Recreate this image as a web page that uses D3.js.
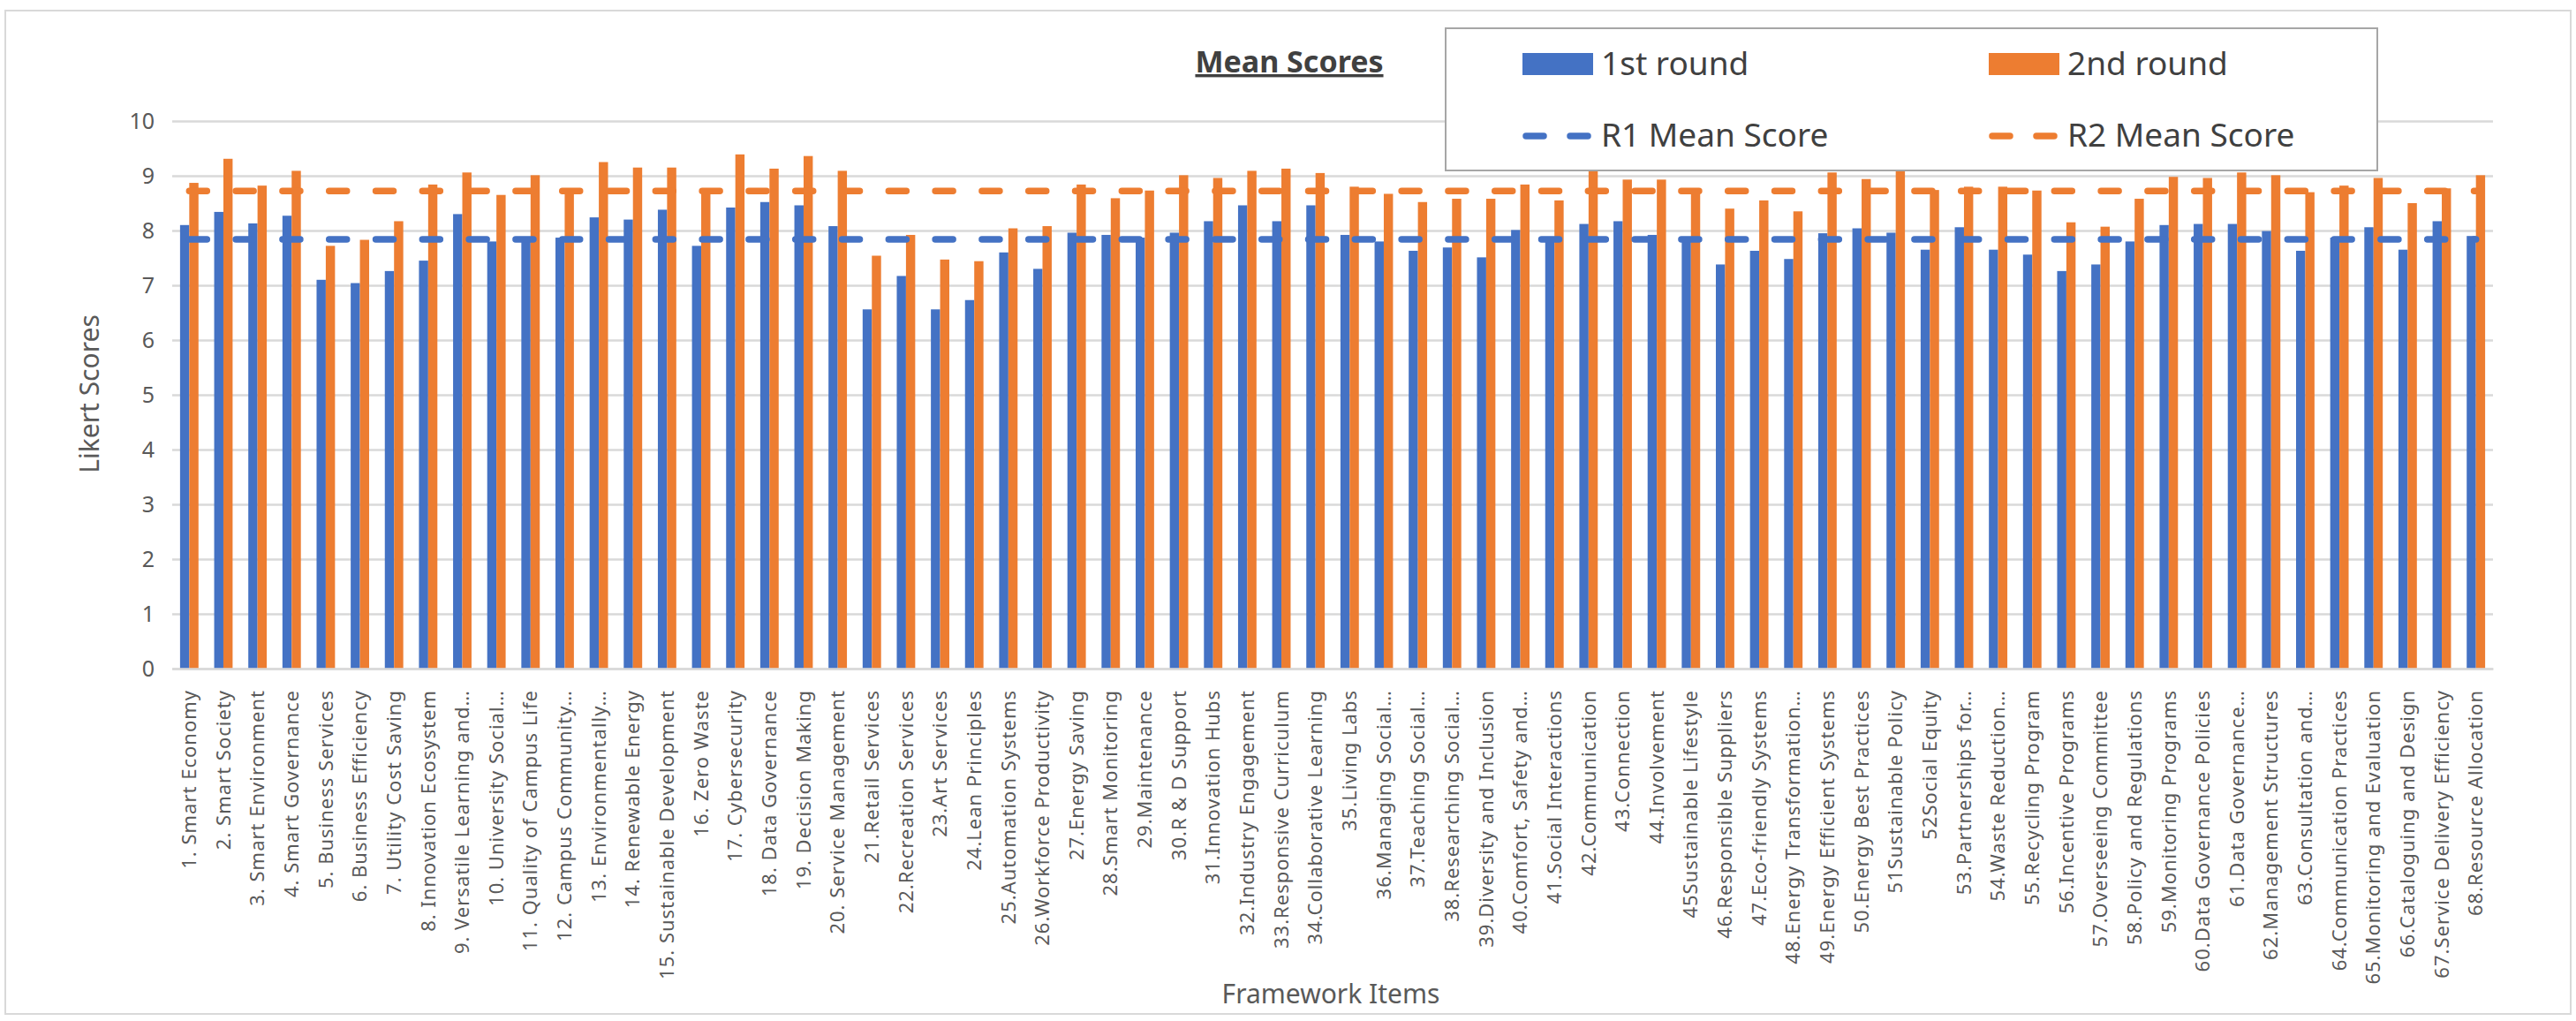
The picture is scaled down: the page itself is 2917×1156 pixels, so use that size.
<!DOCTYPE html>
<html><head><meta charset="utf-8">
<script src="https://cdn.jsdelivr.net/npm/d3@7"></script>
<style>
html,body{margin:0;padding:0;background:#fff;}
svg{display:block;font-family:"Noto Sans",sans-serif;}
</style></head>
<body><svg id="c" width="2917" height="1156"></svg>
<script>
const categories = [
"1. Smart Economy","2. Smart Society","3. Smart Environment","4. Smart Governance","5. Business Services",
"6. Business Efficiency","7. Utility Cost Saving","8. Innovation Ecosystem","9. Versatile Learning and…","10. University Social…",
"11. Quality of Campus Life","12. Campus Community…","13. Environmentally…","14. Renewable Energy","15. Sustainable Development",
"16. Zero Waste","17. Cybersecurity","18. Data Governance","19. Decision Making","20. Service Management",
"21.Retail Services","22.Recreation Services","23.Art Services","24.Lean Principles","25.Automation Systems",
"26.Workforce Productivity","27.Energy Saving","28.Smart Monitoring","29.Maintenance","30.R & D Support",
"31.Innovation Hubs","32.Industry Engagement","33.Responsive Curriculum","34.Collaborative Learning","35.Living Labs",
"36.Managing Social…","37.Teaching Social…","38.Researching Social…","39.Diversity and Inclusion","40.Comfort, Safety and…",
"41.Social Interactions","42.Communication","43.Connection","44.Involvement","45Sustainable Lifestyle",
"46.Responsible Suppliers","47.Eco-friendly Systems","48.Energy Transformation…","49.Energy Efficient Systems","50.Energy Best Practices",
"51Sustainable Policy","52Social Equity","53.Partnerships for…","54.Waste Reduction…","55.Recycling Program",
"56.Incentive Programs","57.Overseeing Committee","58.Policy and Regulations","59.Monitoring Programs","60.Data Governance Policies",
"61.Data Governance…","62.Management Structures","63.Consultation and…","64.Communication Practices","65.Monitoring and Evaluation",
"66.Cataloguing and Design","67.Service Delivery Efficiency","68.Resource Allocation"];

const round1 = [
8.10,8.34,8.13,8.27,7.10,7.04,7.26,7.45,8.30,7.80,
7.83,7.87,8.24,8.20,8.38,7.72,8.42,8.52,8.46,8.08,
6.56,7.17,6.56,6.73,7.60,7.30,7.96,7.92,7.87,7.96,
8.17,8.46,8.17,8.46,7.92,7.80,7.63,7.69,7.51,8.01,
7.80,8.12,8.17,7.92,7.87,7.38,7.63,7.48,7.95,8.04,
7.96,7.65,8.06,7.65,7.56,7.26,7.38,7.80,8.10,8.12,
8.12,7.99,7.63,7.87,8.06,7.65,8.17,7.90];

const round2 = [
8.87,9.31,8.82,9.09,7.72,7.83,8.17,8.84,9.06,8.65,
9.01,8.74,9.25,9.15,9.15,8.72,9.39,9.13,9.36,9.09,
7.54,7.92,7.47,7.44,8.04,8.08,8.84,8.59,8.73,9.01,
8.96,9.09,9.13,9.05,8.80,8.67,8.52,8.58,8.58,8.84,
8.55,9.17,8.93,8.93,8.75,8.40,8.55,8.35,9.06,8.94,
9.31,8.74,8.80,8.80,8.73,8.15,8.07,8.58,8.98,8.96,
9.06,9.01,8.70,8.82,8.96,8.50,8.77,9.01];

const r1Mean = 7.84;
const r2Mean = 8.72;
const yTicks = [0,1,2,3,4,5,6,7,8,9,10];
const seriesNames = ["1st round","2nd round"];
const meanNames = ["R1 Mean Score","R2 Mean Score"];

const BLUE = "#4472C4", ORANGE = "#ED7D31";
const svg = d3.select("#c");

// chart border
svg.append("rect").attr("x",6).attr("y",12).attr("width",2905).attr("height",1136)
  .attr("fill","#fff").attr("stroke","#D9D9D9").attr("stroke-width",2);

const L = 195, R = 2823, T = 137, B = 757;
const x = d3.scaleBand().domain(categories).range([L,R]).padding(0);
const bw = x.bandwidth();
const x1 = d3.scaleBand().domain(["r1","r2"]).range([bw*0.23, bw*0.77]).padding(0);
const y = d3.scaleLinear().domain([0,10]).range([B,T]);

// gridlines
const grid = svg.append("g").attr("transform",`translate(${L},0)`)
  .call(d3.axisLeft(y).tickValues(yTicks).tickSize(-(R-L)).tickFormat(""));
grid.select(".domain").remove();
grid.selectAll("line").attr("stroke","#D9D9D9").attr("stroke-width",2.5);

// y labels
const ya = svg.append("g").attr("transform",`translate(${L-20},0)`)
  .call(d3.axisLeft(y).tickValues(yTicks).tickSize(0).tickPadding(0));
ya.select(".domain").remove();
ya.selectAll("text").attr("font-size",25).attr("fill","#595959").attr("font-family","Noto Sans");

// bars
const g = svg.append("g");
const groups = g.selectAll("g.cat").data(categories).join("g")
  .attr("transform",d=>`translate(${x(d)},0)`);
groups.append("rect").attr("x",x1("r1")).attr("width",x1.bandwidth())
  .attr("y",(d,i)=>y(round1[i])).attr("height",(d,i)=>y(0)-y(round1[i])).attr("fill",BLUE);
groups.append("rect").attr("x",x1("r2")).attr("width",x1.bandwidth())
  .attr("y",(d,i)=>y(round2[i])).attr("height",(d,i)=>y(0)-y(round2[i])).attr("fill",ORANGE);

// x axis
const xa = svg.append("g").attr("transform",`translate(0,${B})`)
  .call(d3.axisBottom(x).tickSize(0).tickPadding(0));
xa.select(".domain").attr("stroke","#D9D9D9").attr("stroke-width",2.5);
xa.selectAll("text").attr("transform","rotate(-90)").attr("text-anchor","end")
  .attr("x",-24).attr("y",0).attr("dy","0.35em")
  .attr("font-size",22).attr("letter-spacing",1).attr("fill","#595959").attr("font-family","Noto Sans");

// mean lines
const line = d3.line().x(d=>x(d.c)+bw/2).y(d=>y(d.v));
const dash = "20,32.8";
svg.append("path").datum(categories.map(c=>({c,v:r1Mean})))
  .attr("d",line).attr("fill","none").attr("stroke",BLUE).attr("stroke-width",7.5)
  .attr("stroke-dasharray",dash).attr("stroke-linecap","round");
svg.append("path").datum(categories.map(c=>({c,v:r2Mean})))
  .attr("d",line).attr("fill","none").attr("stroke",ORANGE).attr("stroke-width",7.5)
  .attr("stroke-dasharray",dash).attr("stroke-linecap","round");

// title
svg.append("text").attr("x",1460).attr("y",82).attr("text-anchor","middle")
  .attr("font-size",34).attr("font-weight","bold").attr("fill","#404040")
  .attr("text-decoration","underline").text("Mean Scores");

// legend
const lg = svg.append("g");
lg.append("rect").attr("x",1637).attr("y",32).attr("width",1055).attr("height",161)
  .attr("fill","#fff").attr("stroke","#A6A6A6").attr("stroke-width",2);
const colX = [1724, 2252];
seriesNames.forEach((n,i)=>{
  lg.append("rect").attr("x",colX[i]).attr("y",60).attr("width",80).attr("height",25)
    .attr("fill",i===0?BLUE:ORANGE);
  lg.append("text").attr("x",colX[i]+89).attr("y",85).attr("font-size",37)
    .attr("fill","#404040").text(n);
});
meanNames.forEach((n,i)=>{
  lg.append("line").attr("x1",colX[i]+2).attr("x2",colX[i]+80).attr("y1",154).attr("y2",154)
    .attr("stroke",i===0?BLUE:ORANGE).attr("stroke-width",7.5)
    .attr("stroke-dasharray","20,30").attr("stroke-linecap","round").attr("transform","translate(2,0)");
  lg.append("text").attr("x",colX[i]+89).attr("y",166).attr("font-size",37)
    .attr("fill","#404040").text(n);
});

// axis titles
svg.append("text").attr("transform","translate(112,446) rotate(-90)").attr("text-anchor","middle")
  .attr("font-size",30).attr("fill","#595959").text("Likert Scores");
svg.append("text").attr("x",1507).attr("y",1136).attr("text-anchor","middle")
  .attr("font-size",30).attr("fill","#595959").text("Framework Items");
</script></body></html>
